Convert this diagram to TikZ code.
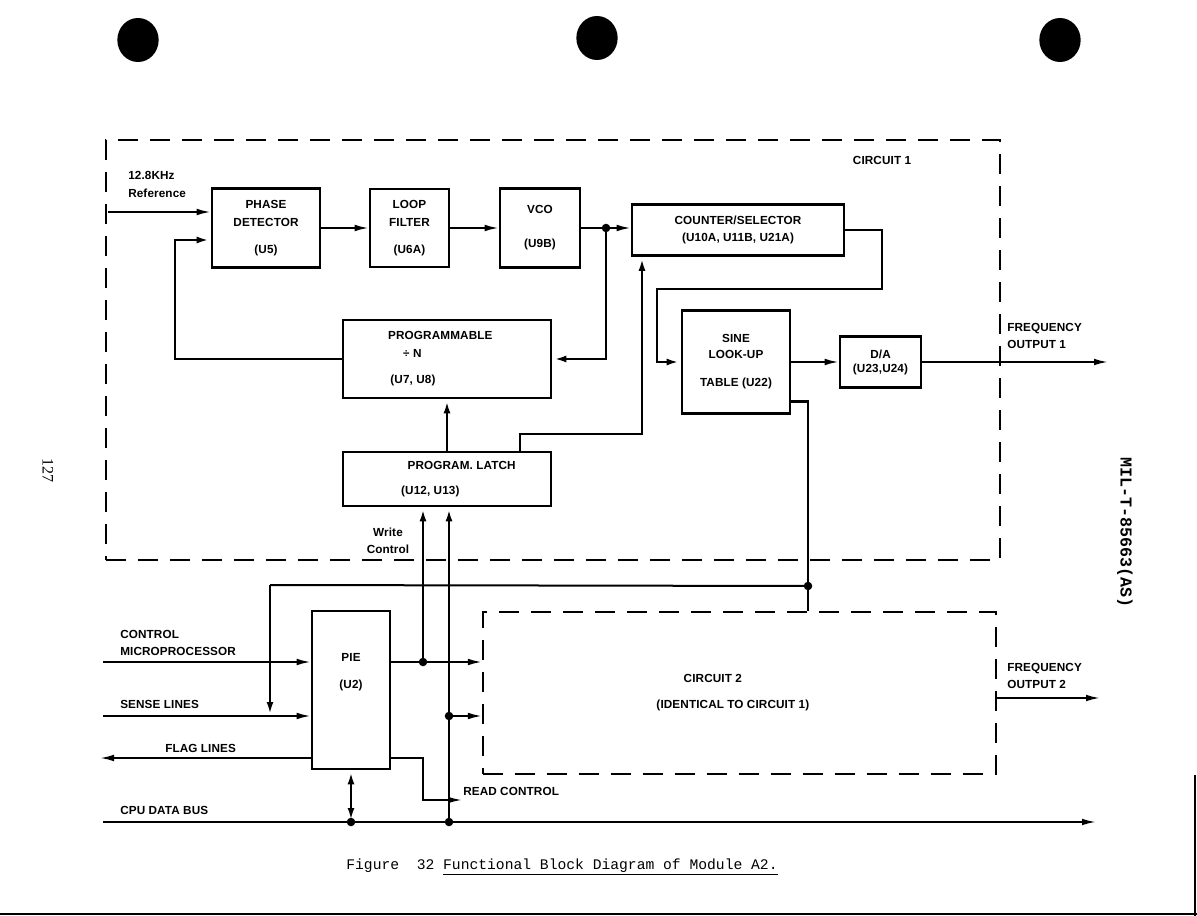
\documentclass[tikz,border=0pt]{standalone}
\usepackage{fontspec}
\setmainfont{Liberation Sans}[LetterSpace=1]
\newfontfamily\capfont{Liberation Mono}
\newfontfamily\pagefont{Liberation Serif}
\usetikzlibrary{
  arrows.meta,
  positioning,
  shapes.geometric
}
\newcommand{\lblfont}{\fontsize{8.8}{13.5}\selectfont\bfseries}
\tikzset{
  blk/.style={draw,line width=2pt,align=center,inner sep=2pt,font=\lblfont},
  sz/.style 2 args={minimum width=#1*0.75pt,minimum height=#2*0.75pt},
  circ/.style={draw,line width=1.7pt,dash pattern=on 15pt off 9pt,
    align=center,inner sep=0pt,font=\lblfont},
  sig/.style={-{Latex[length=10.5pt,width=5pt]},line width=1.4pt},
  heavy/.style={-{Latex[length=10.5pt,width=5pt]},line width=2.2pt},
  wire/.style={line width=2.2pt},
  lab/.style={font=\lblfont,align=left,inner sep=0pt}
}

\begin{document}
\begin{tikzpicture}[x=0.75pt,y=-0.75pt]
  \useasboundingbox (0,0) rectangle (1197,916);
  \fill[white] (0,0) rectangle (1197,916);
  % punch holes and page marks
  \fill (138,40) ellipse (15.5pt and 16.5pt);
  \fill (597,38) ellipse (15.5pt and 16.5pt);
  \fill (1060,40) ellipse (15.5pt and 16.5pt);
  \draw[line width=0.8pt] (0,914) -- (1197,914);
  \draw[line width=0.8pt] (1195,775) -- (1195,916);
  \node[rotate=-90,font=\pagefont\fontsize{12}{14}\selectfont] (pgno) at (48,471) {127};
  \node[rotate=-90,font=\capfont\bfseries\fontsize{12.5}{14}\selectfont] (docid) at (1125,533) {MIL-T-85663(AS)};

  % circuit 1
  \node[circ,sz={894}{420}] (c1) at (553,350) {};
  \node[lab] (c1lab) at (882,160) {CIRCUIT 1};
  \node[blk,sz={108}{79}] (pd) at (266,228) {PHASE\\DETECTOR\\[6.5pt](U5)};
  \node[blk,sz={79}{78}] (lf) at (409.5,228) {LOOP\\FILTER\\[6.5pt](U6A)};
  \node[blk,sz={80}{79}] (vco) at (540,228) {VCO\\[12pt](U9B)};
  \node[blk,sz={212}{51}] (cs) at (738,230) {COUNTER/SELECTOR\\[-1pt](U10A, U11B, U21A)};
  \node[blk,sz={208}{78}] (prog) at (447,359)
    {\hspace*{-10pt}PROGRAMMABLE\\\hspace*{-52pt}÷ N\\[6pt]\hspace*{-51pt}(U7, U8)};
  \node[blk,sz={208}{54}] (latch) at (447,479)
    {\hspace*{22pt}PROGRAM. LATCH\\[5pt]\hspace*{-25pt}(U12, U13)};
  \node[blk,sz={108}{103}] (sine) at (736,362) {SINE\\[-2pt]LOOK-UP\\[8pt]TABLE (U22)};
  \node[blk,sz={81}{51}] (da) at (880.5,362) {D/A\\[-3pt](U23,U24)};

  \coordinate (refin) at (108,212);
  \coordinate (fb) at (175,240);
  \coordinate (vs) at (606,228);
  \coordinate (lk) at (642,434);
  \coordinate (cr) at (882,289);
  \coordinate (cl) at (657,289);
  \coordinate (out1) at (1108,362);
  \node[lab,anchor=west] (reflab) at (128,184) {12.8KHz\\Reference};
  \draw[sig] (refin) -- (refin -| pd.west);
  \draw[heavy] (prog.west) -| (fb) -- (fb -| pd.west);
  \draw[sig] (pd) -- (lf);
  \draw[sig] (lf) -- (vco);
  \draw[sig] (vco.east) -- (vco.east -| cs.west);
  \draw[heavy] (vs) |- (prog.east);
  \fill (vs) circle (3.2pt);
  \draw[heavy] (latch) -- (prog);
  \draw[heavy] ([xshift=54.75pt]latch.north) |- (lk) -- (lk |- cs.south);
  \draw[heavy] (cs.east) -| (cr) -- (cl) |- (sine.west);
  \draw[sig] (sine) -- (da);
  \draw[sig] (da) -- (out1);
  \node[lab,anchor=west] (o1lab) at (1007,336) {FREQUENCY\\[-1pt]OUTPUT 1};

  % circuit 2 and interface
  \node[circ,sz={513}{162}] (c2) at (739.5,693)
    {\hspace*{-40pt}CIRCUIT 2\\[6pt]\hspace*{-10pt}(IDENTICAL TO CIRCUIT 1)};
  \node[blk,sz={78}{158}] (pie) at (351,690) {PIE\\[6.5pt](U2)\\[15pt]\mbox{}};

  \coordinate (jc) at (808,586);
  \coordinate (sl) at (270,585);
  \coordinate (ctlin) at (103,662);
  \coordinate (sensein) at (103,716);
  \coordinate (flagout) at (100,758);
  \coordinate (busl) at (103,822);
  \coordinate (busr) at (1096,822);
  \coordinate (wj) at (423,662);
  \coordinate (bj) at (449,822);
  \coordinate (sj) at (449,716);
  \coordinate (rc) at (423,800);
  \coordinate (rcend) at (462,800);
  \coordinate (out2) at (1100,698);

  \draw[wire] ([yshift=10pt]sine.south east) -| (jc) -- (jc |- c2.north);
  \fill (jc) circle (3.2pt);
  \draw[line width=1.5pt] (jc) -- (sl);
  \draw[heavy] (sl) -- (sl |- sensein);

  \node[lab,anchor=west] (ctllab) at (120,643) {CONTROL\\[-1pt]MICROPROCESSOR};
  \node[lab,anchor=west] (senselab) at (120,704) {SENSE LINES};
  \node[lab,anchor=west] (flaglab) at (165,748) {FLAG LINES};
  \node[lab,anchor=west] (buslab) at (120,810) {CPU DATA BUS};
  \draw[sig] (ctlin) -- (ctlin -| pie.west);
  \draw[sig] (sensein) -- (sensein -| pie.west);
  \draw[sig] (flagout -| pie.west) -- (flagout);
  \draw[sig] (busl) -- (busr);
  \draw[line width=2.2pt,{Latex[length=10.5pt,width=5pt]}-{Latex[length=10.5pt,width=5pt]}]
    (pie.south) -- (pie.south |- busl);
  \fill (pie.south |- busl) circle (3.2pt);

  \draw[sig] (pie.east |- ctlin) -- (ctlin -| c2.west);
  \draw[heavy] (wj) -- (wj |- latch.south);
  \fill (wj) circle (3.2pt);
  \node[lab,align=center] (wclab) at (388,541) {Write\\[-1pt]Control};

  \draw[heavy] (bj) -- (bj |- latch.south);
  \draw[sig] (sj) -- (sj -| c2.west);
  \fill (bj) circle (3.2pt);
  \fill (sj) circle (3.2pt);
  \draw[sig] (pie.east |- flagout) -| (rc) -- (rcend);
  \node[lab,anchor=west] (rclab) at (463,791) {READ CONTROL};

  \draw[sig] (out2 -| c2.east) -- (out2);
  \node[lab,anchor=west] (o2lab) at (1007,676) {FREQUENCY\\[-1pt]OUTPUT 2};

  % caption
  \node[font=\capfont\fontsize{11}{13}\selectfont] (cap) at (562,867)
    {Figure~~32 \underline{Functional Block Diagram of Module A2.}};
\end{tikzpicture}
\end{document}
